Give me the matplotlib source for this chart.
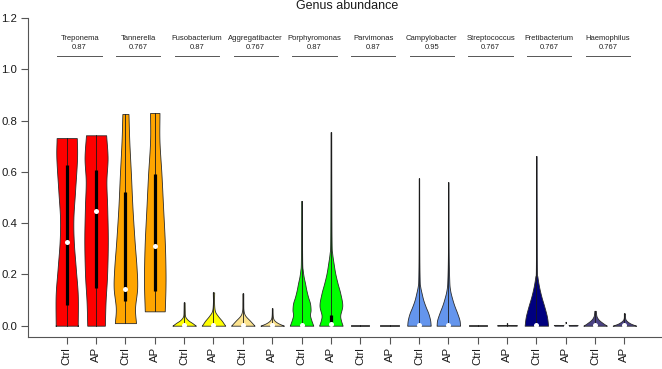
import numpy as np
import matplotlib.pyplot as plt

plt.rcParams['font.family'] = ['Liberation Sans', 'DejaVu Sans']

genera = ['Treponema', 'Tannerella', 'Fusobacterium', 'Aggregatibacter', 'Porphyromonas',
          'Parvimonas', 'Campylobacter', 'Streptococcus', 'Fretibacterium', 'Haemophilus']
pvals = ['0.87', '0.767', '0.87', '0.767', '0.87', '0.87', '0.95', '0.767', '0.767', '0.767']
group_colors = ['#FF0000', '#FFA500', '#FFFF00', '#FCE38E', '#00FF00',
                '#9A9A9A', '#6495ED', '#9A9A9A', '#000080', '#4B4385']
groups = ['Ctrl', 'AP']

# per-violin summary (Ctrl, AP for each genus)
medians = [0.327, 0.446, 0.143, 0.31, 0.003, 0.003, 0.003, 0.002, 0.004, 0.006,
           0.0, 0.0, 0.004, 0.004, 0.0, 0.0, 0.004, 0.0, 0.004, 0.003]
q1 = [0.082, 0.147, 0.095, 0.134, 0.0, 0.0, 0.0, 0.0, 0.0, 0.013,
      0.0, 0.0, 0.0, 0.0, 0.0, 0.0, 0.0, 0.0, 0.0, 0.0]
q3 = [0.628, 0.609, 0.52, 0.59, 0.006, 0.006, 0.006, 0.004, 0.008, 0.042,
      0.0, 0.0, 0.008, 0.008, 0.0, 0.0, 0.008, 0.0, 0.008, 0.006]

# density outlines: heights and relative half-widths
prof_y = [
    [0.0, 0.01, 0.12, 0.225, 0.33, 0.42, 0.524, 0.654, 0.732],
    [0.0, 0.095, 0.2, 0.33, 0.459, 0.563, 0.654, 0.743],
    [0.01, 0.069, 0.147, 0.225, 0.33, 0.46, 0.59, 0.72, 0.826],
    [0.056, 0.147, 0.225, 0.33, 0.46, 0.59, 0.72, 0.83],
    [0.0, 0.01, 0.02, 0.03, 0.04, 0.06, 0.091],
    [0.0, 0.01, 0.02, 0.039, 0.058, 0.09, 0.13],
    [0.0, 0.01, 0.02, 0.04, 0.06, 0.09, 0.126],
    [0.0, 0.01, 0.02, 0.03, 0.045, 0.068],
    [0.0, 0.022, 0.042, 0.061, 0.087, 0.113, 0.139, 0.165, 0.191, 0.217, 0.243, 0.35, 0.487],
    [0.0, 0.022, 0.042, 0.08, 0.126, 0.165, 0.204, 0.243, 0.282, 0.32, 0.5, 0.755],
    [0.0, 0.002],
    [0.0, 0.002],
    [0.0, 0.022, 0.048, 0.074, 0.1, 0.126, 0.152, 0.178, 0.3, 0.575],
    [0.0, 0.022, 0.05, 0.08, 0.11, 0.14, 0.178, 0.3, 0.56],
    [0.0, 0.002],
    [0.0, 0.002, 0.003, 0.009],
    [0.0, 0.035, 0.074, 0.113, 0.152, 0.191, 0.217, 0.4, 0.662],
    [0.0, 0.003, 0.004, 0.015],
    [0.0, 0.009, 0.022, 0.035, 0.048, 0.058],
    [0.0, 0.009, 0.02, 0.03, 0.048],
]
prof_w = [
    [0.94, 0.94, 0.94, 0.77, 0.6, 0.57, 0.71, 0.88, 0.86],
    [0.75, 0.81, 0.94, 1.0, 0.95, 0.88, 0.98, 0.86],
    [0.9, 0.82, 1.0, 0.95, 0.78, 0.6, 0.47, 0.33, 0.26],
    [0.85, 0.91, 0.91, 0.85, 0.71, 0.57, 0.4, 0.4],
    [1.0, 0.71, 0.38, 0.17, 0.07, 0.05, 0.04],
    [1.0, 0.85, 0.7, 0.36, 0.12, 0.05, 0.06],
    [1.0, 0.8, 0.6, 0.2, 0.06, 0.04, 0.04],
    [1.0, 0.5, 0.2, 0.08, 0.04, 0.03],
    [1.0, 0.83, 0.72, 0.77, 0.72, 0.55, 0.41, 0.3, 0.18, 0.1, 0.06, 0.04, 0.03],
    [1.0, 0.85, 0.8, 0.97, 0.8, 0.57, 0.37, 0.23, 0.11, 0.06, 0.04, 0.03],
    [0.78, 0.78],
    [0.78, 0.78],
    [1.0, 0.95, 0.8, 0.57, 0.37, 0.23, 0.11, 0.06, 0.03, 0.02],
    [1.0, 0.95, 0.75, 0.5, 0.3, 0.15, 0.08, 0.03, 0.02],
    [0.78, 0.78],
    [0.8, 0.8, 0.04, 0.03],
    [1.0, 0.9, 0.68, 0.43, 0.23, 0.09, 0.045, 0.03, 0.02],
    [0.95, 0.95, 0.04, 0.03],
    [1.0, 0.7, 0.34, 0.14, 0.08, 0.06],
    [1.0, 0.5, 0.17, 0.06, 0.05],
]


def smooth_outline(ys, ws, n=12):
    # Catmull-Rom through the read-off outline points
    pts = np.column_stack([ys, ws]).astype(float)
    if len(pts) < 3:
        return pts[:, 0], pts[:, 1]
    ext = np.vstack([2 * pts[0] - pts[1], pts, 2 * pts[-1] - pts[-2]])
    out = []
    t = np.linspace(0, 1, n, endpoint=False)[:, None]
    for k in range(1, len(ext) - 2):
        p0, p1, p2, p3 = ext[k - 1], ext[k], ext[k + 1], ext[k + 2]
        seg = 0.5 * ((2 * p1) + (-p0 + p2) * t + (2 * p0 - 5 * p1 + 4 * p2 - p3) * t ** 2
                     + (-p0 + 3 * p1 - 3 * p2 + p3) * t ** 3)
        out.append(seg)
    out.append(pts[-1][None, :])
    out = np.vstack(out)
    y = np.clip(out[:, 0], ys[0], ys[-1])
    w = np.clip(out[:, 1], 0.015, None)
    return y, w


half = 0.4
fig = plt.figure(figsize=(6.62, 3.69), dpi=100)
ax = fig.add_axes([0.0423, 0.0859, 0.9577, 0.8959])

positions = np.arange(1, 21)
for i, pos in enumerate(positions):
    col = group_colors[i // 2]
    y, w = smooth_outline(prof_y[i], prof_w[i])
    w = w * half
    ax.fill_betweenx(y, pos - w, pos + w, facecolor=col, edgecolor='#2b2b2b',
                     linewidth=0.6, zorder=2)
    ax.plot([pos, pos], [y[0], y[-1]], color='#1a1a1a', lw=0.6, zorder=3)
    if q3[i] > q1[i]:
        ax.plot([pos, pos], [q1[i], q3[i]], color='black', lw=2.3,
                solid_capstyle='butt', zorder=4)
    if prof_y[i][-1] > 0.01:
        ax.plot(pos, medians[i], 'o', color='white', ms=3.6, mec='none', zorder=5)

# group annotations
for g in range(10):
    cx = 1.5 + 2 * g - 0.06
    ax.plot([cx - 0.755, cx + 0.755], [1.052, 1.052], color='#555555', lw=0.7,
            clip_on=False)
    ax.text(cx, 1.119, genera[g], ha='center', va='center', fontsize=5.5,
            color='#222222')
    ax.text(cx, 1.084, pvals[g], ha='center', va='center', fontsize=5.5,
            color='#222222')

ax.set_xlim(-0.3186, 21.28)
ax.set_ylim(-0.0453, 1.2447)
ax.set_yticks([0.0, 0.2, 0.4, 0.6, 0.8, 1.0, 1.2])
ax.set_yticklabels(['0.0', '0.2', '0.4', '0.6', '0.8', '1.0', '1.2'])
ax.set_xticks(positions)
ax.set_xticklabels(groups * 10, rotation=90)
ax.tick_params(axis='both', labelsize=8.2, length=5, width=0.8, color='#555555',
               pad=2, labelcolor='#1a1a1a')
ax.tick_params(axis='y', pad=3)

for s in ['top', 'right']:
    ax.spines[s].set_visible(False)
for s in ['left', 'bottom']:
    ax.spines[s].set_color('#555555')
    ax.spines[s].set_linewidth(0.8)
ax.spines['left'].set_bounds(-0.0453, 1.2)

fig.text(0.524, 0.984, 'Genus abundance', ha='center', va='center', fontsize=9,
         color='#1a1a1a')

fig.savefig('out.png', dpi=100)
